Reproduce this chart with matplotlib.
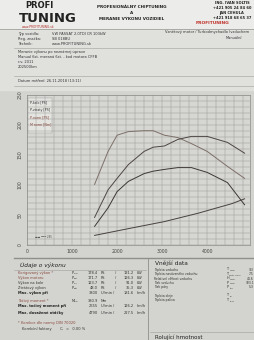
import matplotlib
matplotlib.use("Agg")
import matplotlib.pyplot as plt
import numpy as np

# namerane krivky (otacky / hodnota v jednotkach grafu)
rpm = [1500, 1800, 2000, 2250, 2600, 2800, 3050, 3350, 3650, 4000, 4450, 4830]
torque_nm = [202, 312, 366, 378, 381, 381, 366, 358, 338, 312, 262, 222]
p_mot = [46, 92, 111, 134, 156, 163, 165, 176, 181, 181, 171, 153]
p_kolo = [31, 62, 89, 106, 119, 123, 126, 129, 129, 121, 104, 67]
rpm_loss = [1500, 2300, 3050, 3800, 4550, 4830]
p_ztraty = [16, 28, 39, 53, 69, 77]

x_ticks = [0, 1000, 2000, 3000, 4000]
y_ticks = [0, 50, 100, 150, 200, 250]
legend_labels = ["P-kolo [PS]", "P-ztraty [PS]", "P-norm [PS]", "M norm [Nm]"]

vykon_rows = [
    ("Korigovaný výkon *", "P", "norm", "178.4", "PS", "131.2", "kW", "#8a4a3e"),
    ("Výkon motoru", "P", "mot", "171.7", "PS", "126.3", "kW", "#8a4a3e"),
    ("Výkon na kole", "P", "kolo", "123.7", "PS", "91.0", "kW", "#333333"),
    ("Ztrátový výkon", "P", "ztrát", "48.0", "PS", "35.3", "kW", "#333333"),
]
vnejsi_rows = [
    ("Teplota vzduchu", "T", "vzduch", "9.3"),
    ("Teplota nasávaného vzduchu", "T", "nasáv. vzduch", "7.5"),
    ("Relativní vlhkost vzduchu", "H", "vzduch", "44.6"),
    ("Tlak vzduchu", "P", "vzduch", "923.1"),
    ("Tlak páry", "P", "pára", "5.3"),
    ("Teplota oleje", "T", "olej", ""),
    ("Teplota paliva", "T", "palivo", ""),
]
vnejsi_y = [270, 274.3, 278.6, 283, 287.3, 296, 300.3]

W, H = 255, 340
fig = plt.figure(figsize=(2.55, 3.4), dpi=100, facecolor="#d3d3cf")


def t(x, y, s, size=3.2, color="#333333", **kw):
    fig.text(x / W, 1 - y / H, s, fontsize=size, color=color, va="center", **kw)


def sym(x, y, s, sub, size=2.6):
    t(x, y - 0.4, s, size=size)
    t(x + size * 0.9, y + 0.8, sub, size=size * 0.5)


def hline(y, x0=0, x1=W, color="#9e9e9a", lw=0.6):
    fig.add_artist(plt.Line2D([x0 / W, x1 / W], [1 - y / H, 1 - y / H], color=color, lw=lw))


# papier
fig.patches.append(plt.Rectangle((0, 1 - 90 / H), 1, 90 / H, transform=fig.transFigure,
                                 color="#e0e0dd", zorder=0))
fig.patches.append(plt.Rectangle((0, 1 - 29 / H), 1, 29 / H, transform=fig.transFigure,
                                 color="#ececea", zorder=0))

# hlavicka
t(25, 6, "PROFI", size=6, color="#222222", weight="bold")
t(19, 18, "TUNING", size=9.5, color="#222222", weight="bold")
t(22, 26.5, "www.PROFITUNING.sk", size=2.2, color="#b0302a")
t(132, 7, "PROFESIONÁLNY CHIPTUNING", size=3, color="#222222", weight="bold", ha="center")
t(132, 13, "A", size=3, color="#222222", weight="bold", ha="center")
t(132, 19, "MERANIE VÝKONU VOZIDIEL", size=3, color="#222222", weight="bold", ha="center")
t(232, 3, "ING. IVAN SOLTIS", size=2.6, color="#222222", weight="bold", ha="center")
t(232, 8, "+421 905 24 84 60", size=2.6, color="#222222", weight="bold", ha="center")
t(232, 13, "JAN CEHULA", size=2.6, color="#222222", weight="bold", ha="center")
t(232, 18, "+421 918 68 65 37", size=2.6, color="#222222", weight="bold", ha="center")
t(212, 23, "PROFITUNING", size=3.2, color="#c0302a", weight="bold", ha="center")
hline(29)

t(18, 34, "Typ vozidla:", size=2.6)
t(52, 34, "VW PASSAT 2.0TDI CR 103kW", size=2.6)
t(18, 39, "Reg. značka:", size=2.6)
t(52, 39, "SB 018BU", size=2.6)
t(18, 44, "Technik:", size=2.6)
t(52, 44, "www.PROFITUNING.sk", size=2.6)
t(165, 32, "Vznětový motor / Turbodmychadlo (vzduchem", size=2.6)
t(226, 38, "Manuální", size=2.6)
hline(48, 14, W, lw=0.4)
t(18, 52, "Meranie výkonu po neznámej úprave", size=2.6)
t(18, 57, "Manual 6st. meraná 6st. - kod motora CFFB", size=2.6)
t(18, 62, "r.v. 2011", size=2.6)
t(18, 67, "202500km", size=2.6)
hline(76, 14, W, lw=0.4)
t(18, 81, "Datum měření: 26.11.2018 (13:11)", size=2.6)
hline(86, 14, W, lw=0.4)

# graf
ax = fig.add_axes([27 / W, 1 - 245 / H, 223 / W, 150 / H])
ax.set_facecolor("#d6d6d2")
ax.set_xlim(0, 4950)
ax.set_ylim(0, 250)
ax.set_xticks(np.arange(0, 4951, 200), minor=True)
ax.set_yticks(np.arange(0, 251, 10), minor=True)
ax.set_xticks(x_ticks)
ax.set_yticks(y_ticks)
ax.grid(which="both", color="#9c9c99", lw=0.35)
ax.tick_params(which="both", length=0, labelsize=3.3, labelcolor="#444444", pad=3)
for lab in ax.get_yticklabels():
    lab.set_rotation(90)
    lab.set_va("center")
for s in ax.spines.values():
    s.set_color("#8a8a87")
    s.set_lw(0.5)

ax.plot(rpm, np.array(torque_nm) / 2, color="#7d7068", lw=0.7)
ax.plot(rpm, p_mot, color="#4d4743", lw=0.7)
ax.plot(rpm, p_kolo, color="#3c3835", lw=0.7)
ax.plot(rpm_loss, p_ztraty, color="#46423f", lw=0.7)

leg_colors = ["#333333", "#333333", "#8a4a3e", "#8a4a3e"]
ax.add_patch(plt.Rectangle((30, 187), 520, 58, facecolor="#e4e4e1", edgecolor="#999999", lw=0.3))
for i, (lab, c) in enumerate(zip(legend_labels, leg_colors)):
    ax.text(70, 238 - i * 12.5, lab, fontsize=2.3, color=c, va="center")
ax.text(180, 14, "▬▬ ━━━ 285", fontsize=2, color="#555555", va="center")

# spodna tabulka
hline(258, 14, W, color="#8e8e8a", lw=1.0)
fig.add_artist(plt.Line2D([148 / W, 148 / W], [1 - 258 / H, 0], color="#8e8e8a", lw=0.6))
t(20, 265, "Údaje o výkonu", size=4.2, color="#222222", style="italic")
t(155, 263, "Vnější data", size=4.2, color="#222222")
hline(270, 14, 146, lw=0.4)

y0 = 273
for i, (lab, s, sub, v1, u1, v2, u2, c) in enumerate(vykon_rows):
    y = y0 + i * 5
    t(18, y, lab, size=2.6, color=c)
    sym(72, y, s, sub)
    t(98, y, v1, size=2.6, ha="right")
    t(101, y, u1, size=2.6)
    t(115, y, "/", size=2.6)
    t(134, y, v2, size=2.6, ha="right")
    t(137, y, u2, size=2.6)
t(18, 293, "Max. výkon při", size=2.6, color="#222222", weight="bold")
t(98, 293, "3800", size=2.6, ha="right")
t(101, 293, "U/min /", size=2.6)
t(134, 293, "181.6", size=2.6, ha="right")
t(137, 293, "km/h", size=2.6)

t(18, 301, "Točivý moment *", size=2.6, color="#8a4a3e")
sym(72, 301, "M", "norm")
t(98, 301, "380.9", size=2.6, ha="right")
t(101, 301, "Nm", size=2.6)
t(18, 306, "Max. točivý moment při", size=2.6, color="#222222", weight="bold")
t(98, 306, "2655", size=2.6, ha="right")
t(101, 306, "U/min /", size=2.6)
t(134, 306, "126.2", size=2.6, ha="right")
t(137, 306, "km/h", size=2.6)
t(18, 313, "Max. dosažené otáčky", size=2.6, color="#222222", weight="bold")
t(98, 313, "4790", size=2.6, ha="right")
t(101, 313, "U/min /", size=2.6)
t(134, 313, "227.5", size=2.6, ha="right")
t(137, 313, "km/h", size=2.6)
t(18, 323, "* Korekce dle normy DIN 70020", size=2.6, color="#8a4a3e")
t(22, 329, "Korekční faktory", size=2.6)
sym(60, 329, "C", "f")
t(66, 329, "=   0.00 %", size=2.6)

for (lab, s, sub, v), y in zip(vnejsi_rows, vnejsi_y):
    t(154, y, lab, size=2.2)
    t(227, y - 0.5, s, size=2.4)
    t(229.5, y + 0.8, sub, size=1.2)
    if v:
        t(254, y, v, size=2.2, ha="right")
hline(332, 150, W, lw=0.4)
t(155, 337, "Rolující hmotnost", size=4, color="#222222")

fig.savefig("out.png", dpi=100, facecolor=fig.get_facecolor())
